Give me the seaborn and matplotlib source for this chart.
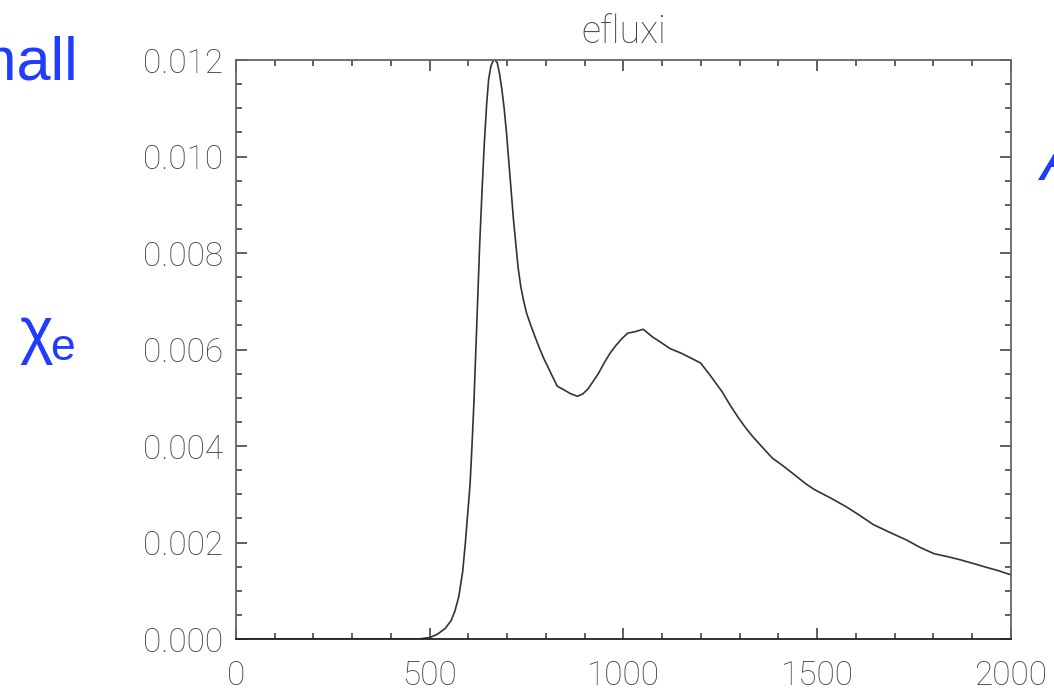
import matplotlib
matplotlib.use("Agg")
import matplotlib.pyplot as plt
from matplotlib.ticker import MultipleLocator, FormatStrFormatter
import seaborn as sns
import pandas as pd

# Electron flux profile
position = [0, 440, 470, 500, 520, 540, 555, 565, 575, 585, 592, 598, 604, 609,
            614, 619, 624, 629, 635, 641, 647, 652, 658, 664, 668, 674, 680,
            686, 692, 698, 704, 710, 716, 722, 728, 735, 742, 750, 760, 770,
            782, 794, 806, 818, 829, 845, 862, 881, 895, 908, 920, 935, 950,
            965, 980, 995, 1011, 1030, 1051, 1075, 1098, 1120, 1150, 1175,
            1199, 1225, 1254, 1275, 1297, 1315, 1332, 1360, 1384, 1410, 1445,
            1470, 1492, 1535, 1575, 1610, 1645, 1690, 1731, 1765, 1801, 1840,
            1870, 1905, 1939, 1970, 2000]
efluxi = [0.0, 0.0, 0.0, 0.00003, 0.0001, 0.00022, 0.00038, 0.00058, 0.00088,
          0.0014, 0.0020, 0.0026, 0.0032, 0.0040, 0.0049, 0.0060, 0.0071,
          0.0082, 0.0093, 0.0103, 0.0111, 0.0116, 0.01188, 0.01199, 0.0120,
          0.01195, 0.01172, 0.0114, 0.0110, 0.0105, 0.0099, 0.0093, 0.0087,
          0.0082, 0.0077, 0.0073, 0.00702, 0.00675, 0.00652, 0.0063, 0.00605,
          0.00582, 0.00562, 0.00542, 0.00524, 0.00517, 0.00509, 0.00503,
          0.00508, 0.00518, 0.00532, 0.0055, 0.00572, 0.00592, 0.00608,
          0.00622, 0.00634, 0.00637, 0.00642, 0.00626, 0.00614, 0.00602,
          0.00592, 0.00582, 0.00572, 0.00545, 0.00513, 0.00485, 0.00458,
          0.00438, 0.00421, 0.00396, 0.00375, 0.0036, 0.00338, 0.00322,
          0.0031, 0.00292, 0.00274, 0.00256, 0.00237, 0.0022, 0.00205, 0.0019,
          0.00177, 0.0017, 0.00164, 0.00156, 0.00148, 0.00141, 0.00133]
x_ticks = [0, 500, 1000, 1500, 2000]
y_ticks = [0.000, 0.002, 0.004, 0.006, 0.008, 0.010, 0.012]

df = pd.DataFrame({"position": position, "efluxi": efluxi})

sns.set_style("ticks")
plt.rcParams["font.family"] = ["Roboto", "DejaVu Sans"]

fig = plt.figure(figsize=(10.54, 6.98), dpi=100)
ax = fig.add_axes([0.2239, 0.0845, 0.7353, 0.8295])

sns.lineplot(data=df, x="position", y="efluxi", ax=ax, color="#333333",
             linewidth=1.2, estimator=None)

ax.set_xlim(0, 2000)
ax.set_ylim(0, 0.012)
ax.set_xticks(x_ticks)
ax.set_yticks(y_ticks)
ax.xaxis.set_minor_locator(MultipleLocator(100))
ax.yaxis.set_minor_locator(MultipleLocator(0.0005))
ax.yaxis.set_major_formatter(FormatStrFormatter("%.3f"))
ax.set_xlabel("")
ax.set_ylabel("")

grey = "#444444"
for side in ["left", "right", "top", "bottom"]:
    ax.spines[side].set_visible(True)
    ax.spines[side].set_color("#666666")
    ax.spines[side].set_linewidth(1.3)
ax.spines["bottom"].set_color("#222222")

ax.tick_params(which="both", direction="in", top=True, right=True,
               color="#444444", width=1.2, labelcolor=grey, labelsize=24)
ax.tick_params(which="major", length=8)
ax.tick_params(which="minor", length=4)
ax.tick_params(axis="x", which="major", pad=15)
ax.tick_params(axis="y", which="major", pad=9)
for lab in ax.get_xticklabels() + ax.get_yticklabels():
    lab.set_fontweight("light")

ax.set_title("efluxi", color=grey, fontsize=27, fontweight="light", pad=12)

blue = "#1f3cff"
fig.text(78 / 1054, 1 - 80 / 698, "small", color=blue, fontsize=44,
         family="Liberation Sans", ha="right", va="baseline")
fig.text(19 / 1054, 1 - 352 / 698, "χ", color=blue, fontsize=46,
         family="Liberation Sans", ha="left", va="baseline")
fig.text(50 / 1054, 1 - 360 / 698, "e", color=blue, fontsize=32,
         family="Liberation Sans", ha="left", va="baseline")
fig.text(1040 / 1054, 1 - 180 / 698, "A", color=blue, fontsize=44,
         family="Liberation Sans", style="italic", ha="left", va="baseline")

fig.savefig("out.png", dpi=100)
